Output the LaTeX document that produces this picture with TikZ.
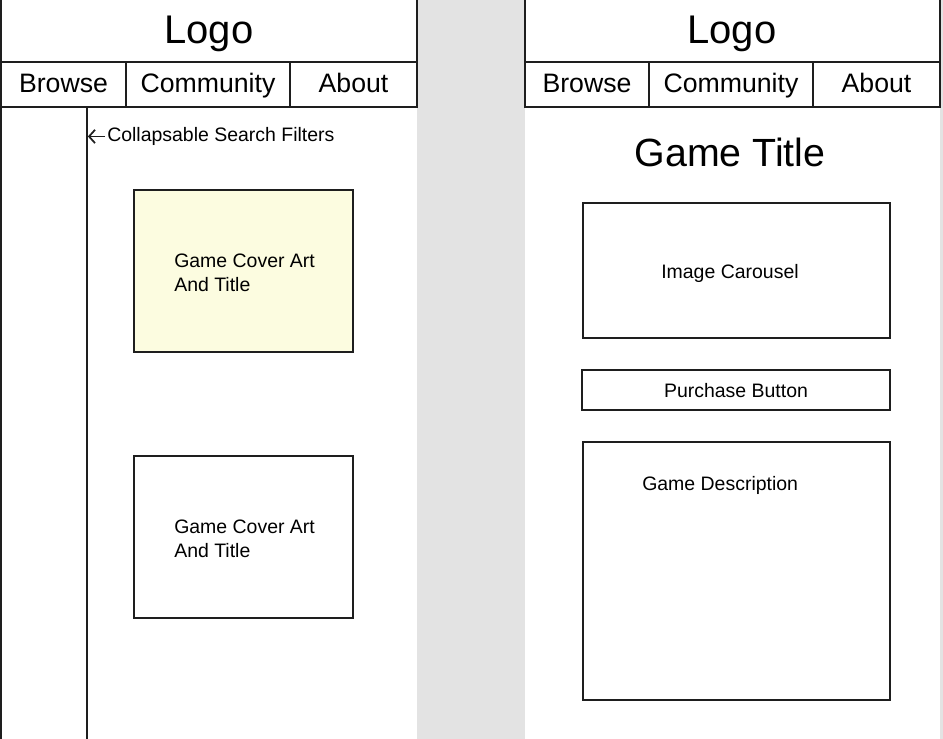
\documentclass[tikz,border=0pt]{standalone}
\usepackage{fontspec}
\setmainfont{Liberation Sans}
\usetikzlibrary{fit,arrows.meta}

\definecolor{pagegray}{HTML}{E3E3E3}
\definecolor{cardfill}{HTML}{FCFCE0}
\definecolor{ink}{HTML}{1E1E1E}

\tikzset{
  frame/.style={draw=ink, line width=1.3pt, inner sep=0pt},
  card/.style={frame, fill=white},
  logotext/.style={font=\fontsize{30pt}{35pt}\selectfont, inner sep=0pt, anchor=base},
  navtext/.style={font=\fontsize{20pt}{24pt}\selectfont, inner sep=0pt, anchor=base},
  titletext/.style={font=\fontsize{29.5pt}{34pt}\selectfont, inner sep=0pt, anchor=base},
  smalltext/.style={font=\fontsize{14.6pt}{17.6pt}\selectfont, inner sep=0pt},
}

\begin{document}
\begin{tikzpicture}[x=0.75pt, y=-0.75pt]
  \useasboundingbox (0,0) rectangle (943,739);
  \clip (0,0) rectangle (943,739);

  % backdrop and the two page columns
  \fill[pagegray] (0,0) rectangle (943,739);
  \fill[white] (0,0) rectangle (417,739);
  \fill[white] (525,0) rectangle (940,739);

  % ---------- browse page ----------
  \node (logoL) [frame, fit={(1,-2) (417,62)}] {};
  \node (browseL) [frame, fit={(1,62) (126,107)}] {};
  \node (commL) [frame, fit={(126,62) (290,107)}] {};
  \node (aboutL) [frame, fit={(290,62) (417,107)}] {};
  \node (logoLtxt) [logotext] at (209,43) {Logo};
  \node (browseLtxt) [navtext] at (browseL.center |- 0,92) {Browse};
  \node (commLtxt) [navtext] at (commL.center |- 0,92) {Community};
  \node (aboutLtxt) [navtext] at (aboutL.center |- 0,92) {About};

  \node (sidebar) [frame, fit={(1,107) (87,760)}] {};
  \node (filters) [smalltext, anchor=base west] at (107,141.5) {Collapsable Search Filters};
  \draw[ink, line width=1.3pt, -{Straight Barb[length=4.5pt, width=10pt]}]
    ([xshift=-1.5pt]filters.west) -- (sidebar.east |- filters.west);

  \node (cover1) [card, fill=cardfill, fit={(134,190) (353,352)}] {};
  \node (cover1txt) [smalltext, anchor=west, align=left] at (174,273)
    {Game Cover Art\\And Title};

  \node (cover2) [card, fit={(134,456) (353,618)}] {};
  \node (cover2txt) [smalltext, anchor=west, align=left] at (174,539)
    {Game Cover Art\\And Title};

  % ---------- game page ----------
  \node (logoR) [frame, fit={(525,-2) (940,62)}] {};
  \node (browseR) [frame, fit={(525,62) (649,107)}] {};
  \node (commR) [frame, fit={(649,62) (813,107)}] {};
  \node (aboutR) [frame, fit={(813,62) (940,107)}] {};
  \node (logoRtxt) [logotext] at (732,43) {Logo};
  \node (browseRtxt) [navtext] at (browseR.center |- 0,92) {Browse};
  \node (commRtxt) [navtext] at (commR.center |- 0,92) {Community};
  \node (aboutRtxt) [navtext] at (aboutR.center |- 0,92) {About};

  \node (gametitle) [titletext] at (730,166.5) {Game Title};

  \node (carousel) [card, fit={(583,203) (890,338)}] {};
  \node (carouseltxt) [smalltext, anchor=base] at (730,278) {Image Carousel};

  \node (purchase) [card, fit={(582,370) (890,410)}] {};
  \node (purchasetxt) [smalltext, anchor=base] at (purchase.center |- 0,397) {Purchase Button};

  \node (descr) [card, fit={(583,442) (890,700)}] {};
  \node (descrtxt) [smalltext, anchor=base west] at (642,490) {Game Description};
\end{tikzpicture}
\end{document}
